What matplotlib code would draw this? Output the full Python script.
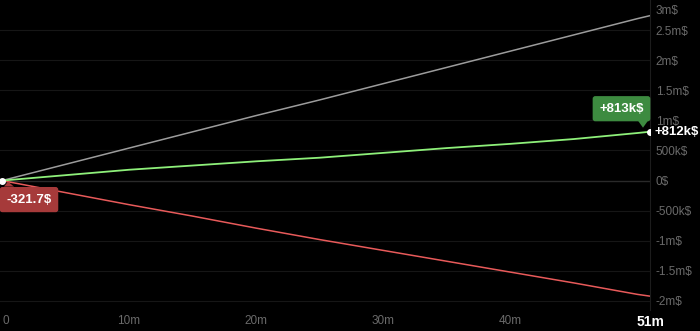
import matplotlib
matplotlib.use("Agg")
import matplotlib.pyplot as plt
import matplotlib.transforms as mtransforms
from matplotlib.patches import Polygon

plt.rcParams["font.family"] = ["Liberation Sans", "DejaVu Sans"]

# data (minutes, dollars)
minutes = [0, 5, 10, 15, 20, 25, 30, 35, 40, 45, 50, 51]
gray_vals = [0, 0.27e6, 0.54e6, 0.81e6, 1.08e6, 1.34e6, 1.61e6, 1.88e6, 2.15e6, 2.42e6, 2.69e6, 2.74e6]
green_vals = [0, 0.09e6, 0.18e6, 0.25e6, 0.32e6, 0.38e6, 0.46e6, 0.54e6, 0.61e6, 0.69e6, 0.79e6, 0.812e6]
red_vals = [-321.7, -0.20e6, -0.40e6, -0.59e6, -0.79e6, -0.98e6, -1.16e6, -1.34e6, -1.52e6, -1.70e6, -1.89e6, -1.92e6]

y_ticks = [-2e6, -1.5e6, -1e6, -0.5e6, 0, 0.5e6, 1e6, 1.5e6, 2e6, 2.5e6]
y_labels = ["-2m$", "-1.5m$", "-1m$", "-500k$", "0$", "500k$", "1m$", "1.5m$", "2m$", "2.5m$"]
x_ticks = [0, 10, 20, 30, 40]
x_labels = ["0", "10m", "20m", "30m", "40m"]

green_box_text = "+813k$"
red_box_text = "-321.7$"
end_text = "+812k$"

W, H = 700, 331
fig = plt.figure(figsize=(W / 100, H / 100), dpi=100)
fig.patch.set_facecolor("black")
ax = fig.add_axes([0, 21 / H, 650 / W, 310 / H])
ax.set_facecolor("black")

ax.set_xlim(-0.16, 51)
ax.set_ylim(-2.15e6, 3.0e6)

# grid
for v in y_ticks:
    ax.axhline(v, color="#2a2a2a" if v == 0 else "#161616", lw=1 if v == 0 else 0.8, zorder=0)

for s in ["top", "left", "bottom"]:
    ax.spines[s].set_visible(False)
ax.spines["right"].set_color("#1c1c1c")
ax.spines["right"].set_linewidth(0.8)

# lines
ax.plot(minutes, gray_vals, color="#9c9c9c", lw=1.1, zorder=2)
ax.plot(minutes, red_vals, color="#e85a5a", lw=1.1, zorder=2)
ax.plot(minutes, green_vals, color="#8ef07a", lw=1.3, zorder=3)

# dots
ax.plot([minutes[0]], [red_vals[0]], "o", color="white", ms=4, zorder=5)
ax.plot([minutes[-1]], [green_vals[-1]], "o", color="white", ms=4, zorder=5)

# y ticks on right
ax.yaxis.tick_right()
ax.set_yticks(y_ticks)
ax.set_yticklabels(y_labels)
ax.tick_params(axis="y", length=0, pad=4, labelsize=8.5, labelcolor="#6a6a6a")
ax.annotate("3m$", xy=(1, 3e6), xycoords=("axes fraction", "data"),
            xytext=(4, -8), textcoords="offset points", ha="left", va="center",
            fontsize=8.5, color="#6a6a6a")

# x ticks
ax.set_xticks(x_ticks + [51])
ax.set_xticklabels(x_labels + ["51m"])
ax.tick_params(axis="x", length=0, pad=3.5, labelsize=8.5, labelcolor="#6a6a6a")
xl = ax.get_xticklabels()
xl[0].set_ha("left")
xl[-1].set_color("white")
xl[-1].set_fontweight("bold")
xl[-1].set_fontsize(10)


def anchored(x, y):
    return fig.dpi_scale_trans + mtransforms.ScaledTranslation(x, y, ax.transData)


# green value box
gx, gy = minutes[-1], green_vals[-1]
ax.annotate(green_box_text, xy=(gx, gy), xytext=(-28.5 * 0.72, 23 * 0.72),
            textcoords="offset points", ha="center", va="center",
            fontsize=9.5, fontweight="bold", color="white", zorder=6,
            bbox=dict(boxstyle="round,pad=0.5,rounding_size=0.2", fc="#3d8b40", ec="none"),
            annotation_clip=False)
tri = Polygon([(-12 / 100, 11 / 100), (-2 / 100, 11 / 100), (-7 / 100, 4 / 100)],
              closed=True, fc="#3d8b40", ec="none", transform=anchored(gx, gy), zorder=6,
              clip_on=False)
ax.add_patch(tri)

# end value text
ax.annotate(end_text, xy=(gx, gy), xytext=(3, -0.5), textcoords="offset points",
            ha="left", va="center", fontsize=9.5, fontweight="bold", color="white",
            annotation_clip=False)

# red value box
rx, ry = minutes[0], red_vals[0]
ax.annotate(red_box_text, xy=(rx, ry), xytext=(27 * 0.72, -19 * 0.72),
            textcoords="offset points", ha="center", va="center",
            fontsize=9.5, fontweight="bold", color="white", zorder=6,
            bbox=dict(boxstyle="round,pad=0.5,rounding_size=0.2", fc="#a63a3a", ec="none"),
            annotation_clip=False)
tri2 = Polygon([(2 / 100, -6 / 100), (12 / 100, -6 / 100), (6 / 100, -1 / 100)],
               closed=True, fc="#a63a3a", ec="none", transform=anchored(rx, ry), zorder=6,
               clip_on=False)
ax.add_patch(tri2)

fig.savefig("out.png", dpi=100, facecolor="black")
